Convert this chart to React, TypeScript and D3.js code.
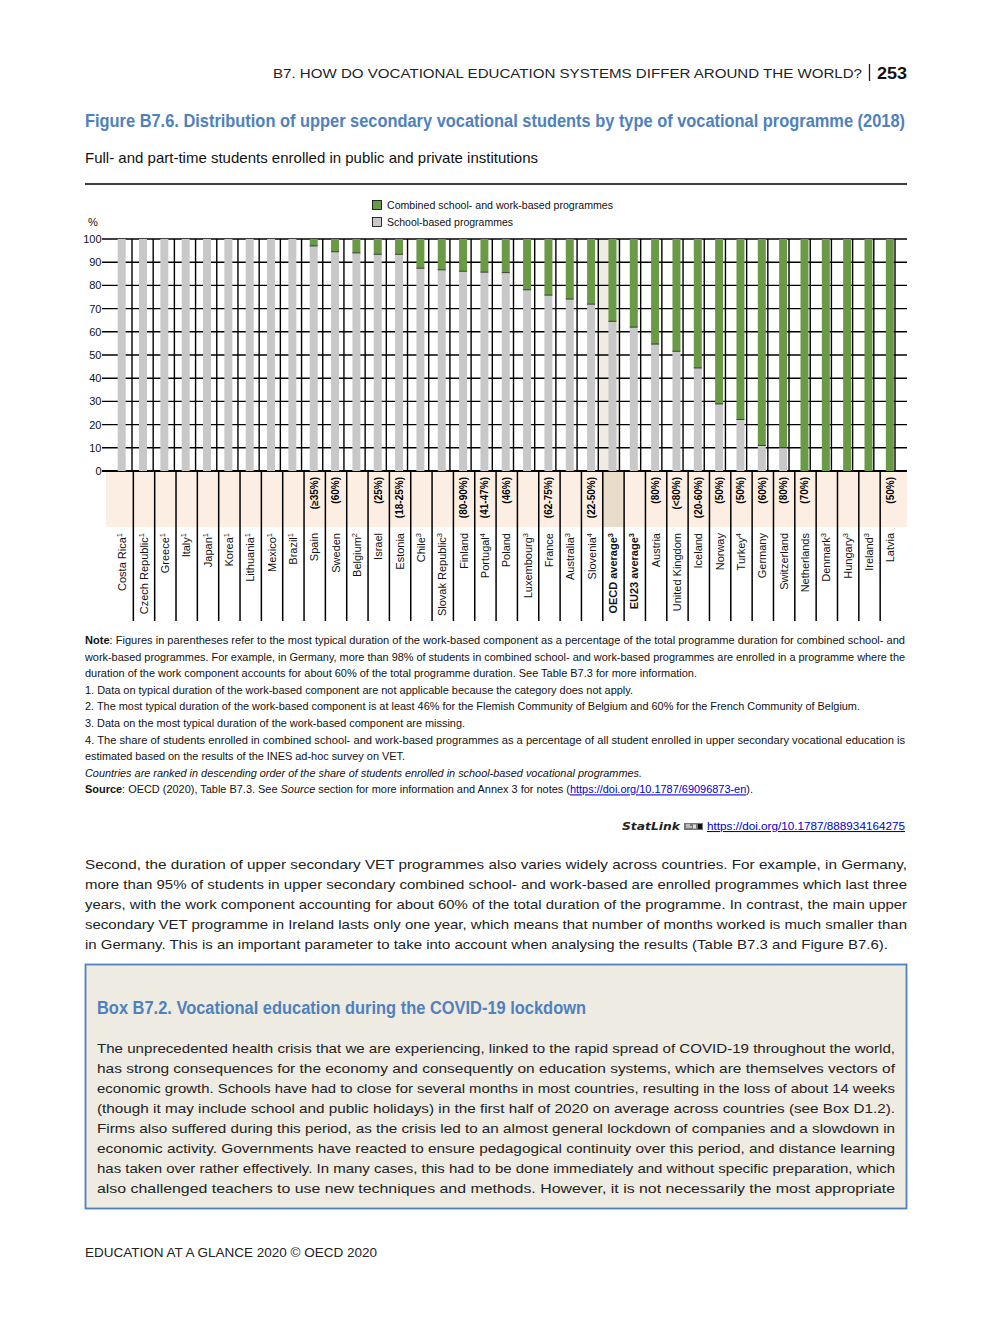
import React from 'react';
import * as d3 from 'd3';

const countries = [
  'Costa Rica', 'Czech Republic', 'Greece', 'Italy', 'Japan', 'Korea', 'Lithuania', 'Mexico', 'Brazil',
  'Spain', 'Sweden', 'Belgium', 'Israel', 'Estonia', 'Chile', 'Slovak Republic', 'Finland', 'Portugal',
  'Poland', 'Luxembourg', 'France', 'Australia', 'Slovenia', 'OECD average', 'EU23 average', 'Austria',
  'United Kingdom', 'Iceland', 'Norway', 'Turkey', 'Germany', 'Switzerland', 'Netherlands', 'Denmark',
  'Hungary', 'Ireland', 'Latvia',
];
const footnotes = [
  '1', '1', '1', '1', '1', '1', '1', '1', '1',
  '', '', '2', '', '', '3', '3', '', '4',
  '', '3', '', '3', '4', '3', '3', '',
  '', '', '', '4', '', '', '', '3',
  '3', '3', '',
];
const schoolBased = [
  100, 100, 100, 100, 100, 100, 100, 100, 100,
  97, 94.5, 94, 93.4, 93.4, 87.4, 86.7, 86.1, 85.7,
  85.5, 78.1, 75.8, 74.1, 71.9, 64.5, 62, 54.7,
  51.6, 44.4, 28.9, 22.2, 11, 10, 0, 0,
  0, 0, 0,
];
const combinedSchoolWork = [
  0, 0, 0, 0, 0, 0, 0, 0, 0,
  3, 5.5, 6, 6.6, 6.6, 12.6, 13.3, 13.9, 14.3,
  14.5, 21.9, 24.2, 25.9, 28.1, 35.5, 38, 45.3,
  48.4, 55.6, 71.1, 77.8, 89, 90, 100, 100,
  100, 100, 100,
];
const workDuration = [
  '', '', '', '', '', '', '', '', '',
  '(≥35%)', '(60%)', '', '(25%)', '(18-25%)', '', '', '(80-90%)', '(41-47%)',
  '(46%)', '', '(62-75%)', '', '(22-50%)', '', '', '(80%)',
  '(<80%)', '(20-60%)', '(50%)', '(50%)', '(60%)', '(80%)', '(70%)', '',
  '', '', '(50%)',
];
const yTicks = [0, 10, 20, 30, 40, 50, 60, 70, 80, 90, 100];
const seriesKeys = ['school', 'combined'];
const seriesLabels = ['School-based programmes', 'Combined school- and work-based programmes'];
const averages = ['OECD average', 'EU23 average'];
const highlighted = 'OECD average';

const noteLines = [
  'Figures in parentheses refer to the most typical duration of the work-based component as a percentage of the total programme duration for combined school- and',
  'work-based programmes. For example, in Germany, more than 98% of students in combined school- and work-based programmes are enrolled in a programme where the',
  'duration of the work component accounts for about 60% of the total programme duration. See Table B7.3 for more information.',
  '1. Data on typical duration of the work-based component are not applicable because the category does not apply.',
  '2. The most typical duration of the work-based component is at least 46% for the Flemish Community of Belgium and 60% for the French Community of Belgium.',
  '3. Data on the most typical duration of the work-based component are missing.',
  '4. The share of students enrolled in combined school- and work-based programmes as a percentage of all student enrolled in upper secondary vocational education is',
  'estimated based on the results of the INES ad-hoc survey on VET.',
  'Countries are ranked in descending order of the share of students enrolled in school-based vocational programmes.',
];
const noteEnds = [905, 905, 697, 633, 860, 465, 905, 405, 642];

const bodyLines = [
  'Second, the duration of upper secondary VET programmes also varies widely across countries. For example, in Germany,',
  'more than 95% of students in upper secondary combined school- and work-based are enrolled programmes which last three',
  'years, with the work component accounting for about 60% of the total duration of the programme. In contrast, the main upper',
  'secondary VET programme in Ireland lasts only one year, which means that number of months worked is much smaller than',
  'in Germany. This is an important parameter to take into account when analysing the results (Table B7.3 and Figure B7.6).',
];
const bodyEnds = [907, 907, 907, 907, 888];

const boxLines = [
  'The unprecedented health crisis that we are experiencing, linked to the rapid spread of COVID-19 throughout the world,',
  'has strong consequences for the economy and consequently on education systems, which are themselves vectors of',
  'economic growth. Schools have had to close for several months in most countries, resulting in the loss of about 14 weeks',
  '(though it may include school and public holidays) in the first half of 2020 on average across countries (see Box D1.2).',
  'Firms also suffered during this period, as the crisis led to an almost general lockdown of companies and a slowdown in',
  'economic activity. Governments have reacted to ensure pedagogical continuity over this period, and distance learning',
  'has taken over rather effectively. In many cases, this had to be done immediately and without specific preparation, which',
  'also challenged teachers to use new techniques and methods. However, it is not necessarily the most appropriate',
];

const SANS = "'Liberation Sans', Arial, Helvetica, sans-serif";
const NARROW = "'Liberation Sans Narrow', 'Arial Narrow', 'Liberation Sans', Arial, sans-serif";
const BLUE = '#4F81BD';
const GREEN = '#6A9A45';
const GREY = '#C8C8C8';
const PINK = '#FCEEE2';

export default function App() {
  const W = 992, H = 1323;
  const plotL = 105, plotR = 907, plotT = 239, plotB = 471;
  const bandB = 527, labelB = 621;

  const y = d3.scaleLinear().domain([0, 100]).range([plotB, plotT]);
  const xBar = d3.scaleBand<string>().domain(countries).range([111, 900.5]);
  const xGrid = d3.scaleBand<string>().domain(countries).range([110.8, 895]);
  const step = xBar.step();
  const barW = 8;

  const rows = countries.map((c, i) => ({ country: c, school: schoolBased[i], combined: combinedSchoolWork[i] }));
  const stacked = d3.stack<any>().keys(seriesKeys)(rows);
  const colors: Record<string, string> = { school: GREY, combined: GREEN };

  const cx = (c: string) => (xBar(c) as number) + step / 2;
  const hl = highlighted;

  return (
    <svg width={W} height={H} style={{ position: 'absolute', left: 0, top: 0, background: '#fff' }} fontFamily={SANS}>
      {/* page header */}
      <text x={273} y={78} fontSize={12.5} textLength={589} lengthAdjust="spacingAndGlyphs" fill="#222">
        B7. HOW DO VOCATIONAL EDUCATION SYSTEMS DIFFER AROUND THE WORLD?
      </text>
      <line x1={869.5} x2={869.5} y1={64} y2={81} stroke="#222" strokeWidth={1.3} />
      <text x={877} y={79} fontSize={16} fontWeight="bold" textLength={30} lengthAdjust="spacingAndGlyphs" fill="#111">253</text>

      {/* title */}
      <text x={85} y={127} fontFamily={NARROW} fontSize={18} fontWeight="bold" fill={BLUE} textLength={820} lengthAdjust="spacingAndGlyphs">
        Figure B7.6. Distribution of upper secondary vocational students by type of vocational programme (2018)
      </text>
      <text x={85} y={163} fontFamily={NARROW} fontSize={15} fill="#111" textLength={453} lengthAdjust="spacingAndGlyphs">
        Full- and part-time students enrolled in public and private institutions
      </text>
      <line x1={85} x2={907} y1={184} y2={184} stroke="#000" strokeWidth={1.5} />

      {/* legend */}
      {[1, 0].map((si, k) => (
        <g key={si} transform={`translate(372.5,${200.5 + k * 17})`}>
          <rect width={9} height={9} fill={colors[seriesKeys[si]]} stroke="#000" strokeWidth={0.8} />
          <text x={14.5} y={8.5} fontSize={11} fill="#111" textLength={si === 1 ? 226 : 126} lengthAdjust="spacingAndGlyphs">
            {seriesLabels[si]}
          </text>
        </g>
      ))}
      <text x={88} y={226} fontSize={11} fill="#111">%</text>

      {/* highlighted column background */}
      <rect x={xGrid(hl) as number} y={plotT} width={xGrid.step()} height={plotB - plotT} fill="#F1ECE3" />

      {/* label band */}
      <rect x={106} y={plotB} width={plotR - 106} height={bandB - plotB} fill={PINK} />
      <rect x={(xBar(hl) as number) + 1} y={plotB} width={step} height={bandB - plotB} fill="#EADCCB" />

      {/* horizontal gridlines */}
      {yTicks.map((t) => (
        <g key={t}>
          <line x1={102} x2={plotR} y1={y(t)} y2={y(t)} stroke="#000" strokeWidth={t === 0 ? 2 : 1.4} />
          <text x={101.5} y={y(t) + 4} fontSize={11} textAnchor="end" fill="#111">{t}</text>
        </g>
      ))}

      {/* vertical separators in plot */}
      {countries.map((c) => (
        <line key={'g' + c} x1={(xGrid(c) as number) + xGrid.step()} x2={(xGrid(c) as number) + xGrid.step()}
          y1={plotT} y2={plotB} stroke="#000" strokeWidth={1.4} />
      ))}

      {/* bars */}
      {stacked.map((s) => (
        <g key={s.key} fill={colors[s.key]}>
          {s.map((d: any, i: number) => {
            const h = y(d[0]) - y(d[1]);
            if (h <= 0) return null;
            return <rect key={i} x={cx(countries[i]) - barW / 2} y={y(d[1])} width={barW} height={h} />;
          })}
        </g>
      ))}
      {countries.map((c, i) => (schoolBased[i] > 0 && combinedSchoolWork[i] > 0 ? (
        <line key={'b' + c} x1={cx(c) - barW / 2} x2={cx(c) + barW / 2} y1={y(schoolBased[i])} y2={y(schoolBased[i])} stroke="#222" strokeWidth={0.8} />
      ) : null))}

      {/* separators in label area */}
      {countries.slice(0, -1).map((c) => (
        <line key={'s' + c} x1={(xBar(c) as number) + step + 1} x2={(xBar(c) as number) + step + 1}
          y1={plotB} y2={labelB} stroke="#000" strokeWidth={1.5} />
      ))}

      {/* duration labels */}
      {countries.map((c, i) => workDuration[i] ? (
        <text key={'w' + c} transform={`translate(${cx(c) + 4},477) rotate(-90)`} textAnchor="end"
          fontSize={10} fontWeight="bold" fill="#000" fontFamily={NARROW}>{workDuration[i]}</text>
      ) : null)}

      {/* country labels */}
      {countries.map((c, i) => (
        <text key={'c' + c} transform={`translate(${cx(c) + 4.5},533) rotate(-90)`} textAnchor="end"
          fontSize={11} fill="#111" fontWeight={averages.includes(c) ? 'bold' : 'normal'}>
          {c}
          {footnotes[i] ? <tspan dy={-4} fontSize={7.5}>{footnotes[i]}</tspan> : null}
        </text>
      ))}

      {/* notes */}
      {noteLines.map((ln, i) => {
        const yy = 644 + i * 16.6;
        const len = noteEnds[i] - 85;
        if (i === 0) {
          return (
            <text key={'n' + i} x={85} y={yy} fontSize={10.5} fill="#111" textLength={len} lengthAdjust="spacingAndGlyphs">
              <tspan fontWeight="bold">Note</tspan>: {ln}
            </text>
          );
        }
        return (
          <text key={'n' + i} x={85} y={yy} fontSize={10.5} fill="#111" textLength={len} lengthAdjust="spacingAndGlyphs"
            fontStyle={i === 8 ? 'italic' : 'normal'}>{ln}</text>
        );
      })}
      <text x={85} y={644 + 9 * 16.6} fontSize={10.5} fill="#111" textLength={668} lengthAdjust="spacingAndGlyphs">
        <tspan fontWeight="bold">Source</tspan>: OECD (2020), Table B7.3. See <tspan fontStyle="italic">Source</tspan> section for more information and Annex 3 for notes (<tspan fill="#0000CC" textDecoration="underline">https://doi.org/10.1787/69096873-en</tspan>).
      </text>

      {/* StatLink */}
      <text x={622} y={830} fontFamily="'DejaVu Sans', sans-serif" fontSize={11} fontWeight="bold" fontStyle="italic" fill="#222" textLength={58} lengthAdjust="spacingAndGlyphs">StatLink</text>
      <g transform="translate(684,822)">
        <rect x={0} y={1} width={19} height={7} fill="#777" />
        <rect x={2} y={2.5} width={4} height={1} fill="#fff" />
        <rect x={2} y={4.5} width={6} height={1} fill="#fff" />
        <rect x={9} y={2.5} width={3} height={4} fill="#ddd" />
        <rect x={14} y={2} width={4} height={5} fill="#111" />
      </g>
      <text x={707} y={830} fontSize={10.5} fill="#0000CC" textDecoration="underline" textLength={198} lengthAdjust="spacingAndGlyphs">
        https://doi.org/10.1787/888934164275
      </text>

      {/* body paragraph */}
      {bodyLines.map((ln, i) => (
        <text key={'p' + i} x={85} y={868.5 + i * 20} fontSize={13} fill="#222" textLength={bodyEnds[i] - 85} lengthAdjust="spacingAndGlyphs">{ln}</text>
      ))}

      {/* box */}
      <rect x={85.5} y={964.5} width={821} height={244} fill="#EEEBE2" stroke={BLUE} strokeWidth={1.8} />
      <text x={97} y={1014} fontFamily={NARROW} fontSize={18} fontWeight="bold" fill={BLUE} textLength={489} lengthAdjust="spacingAndGlyphs">
        Box B7.2. Vocational education during the COVID-19 lockdown
      </text>
      {boxLines.map((ln, i) => (
        <text key={'x' + i} x={97} y={1052.5 + i * 20} fontSize={13} fill="#222" textLength={798} lengthAdjust="spacingAndGlyphs">{ln}</text>
      ))}

      {/* footer */}
      <text x={85} y={1257} fontSize={12} fill="#222" textLength={292} lengthAdjust="spacingAndGlyphs">EDUCATION AT A GLANCE 2020 © OECD 2020</text>
    </svg>
  );
}
